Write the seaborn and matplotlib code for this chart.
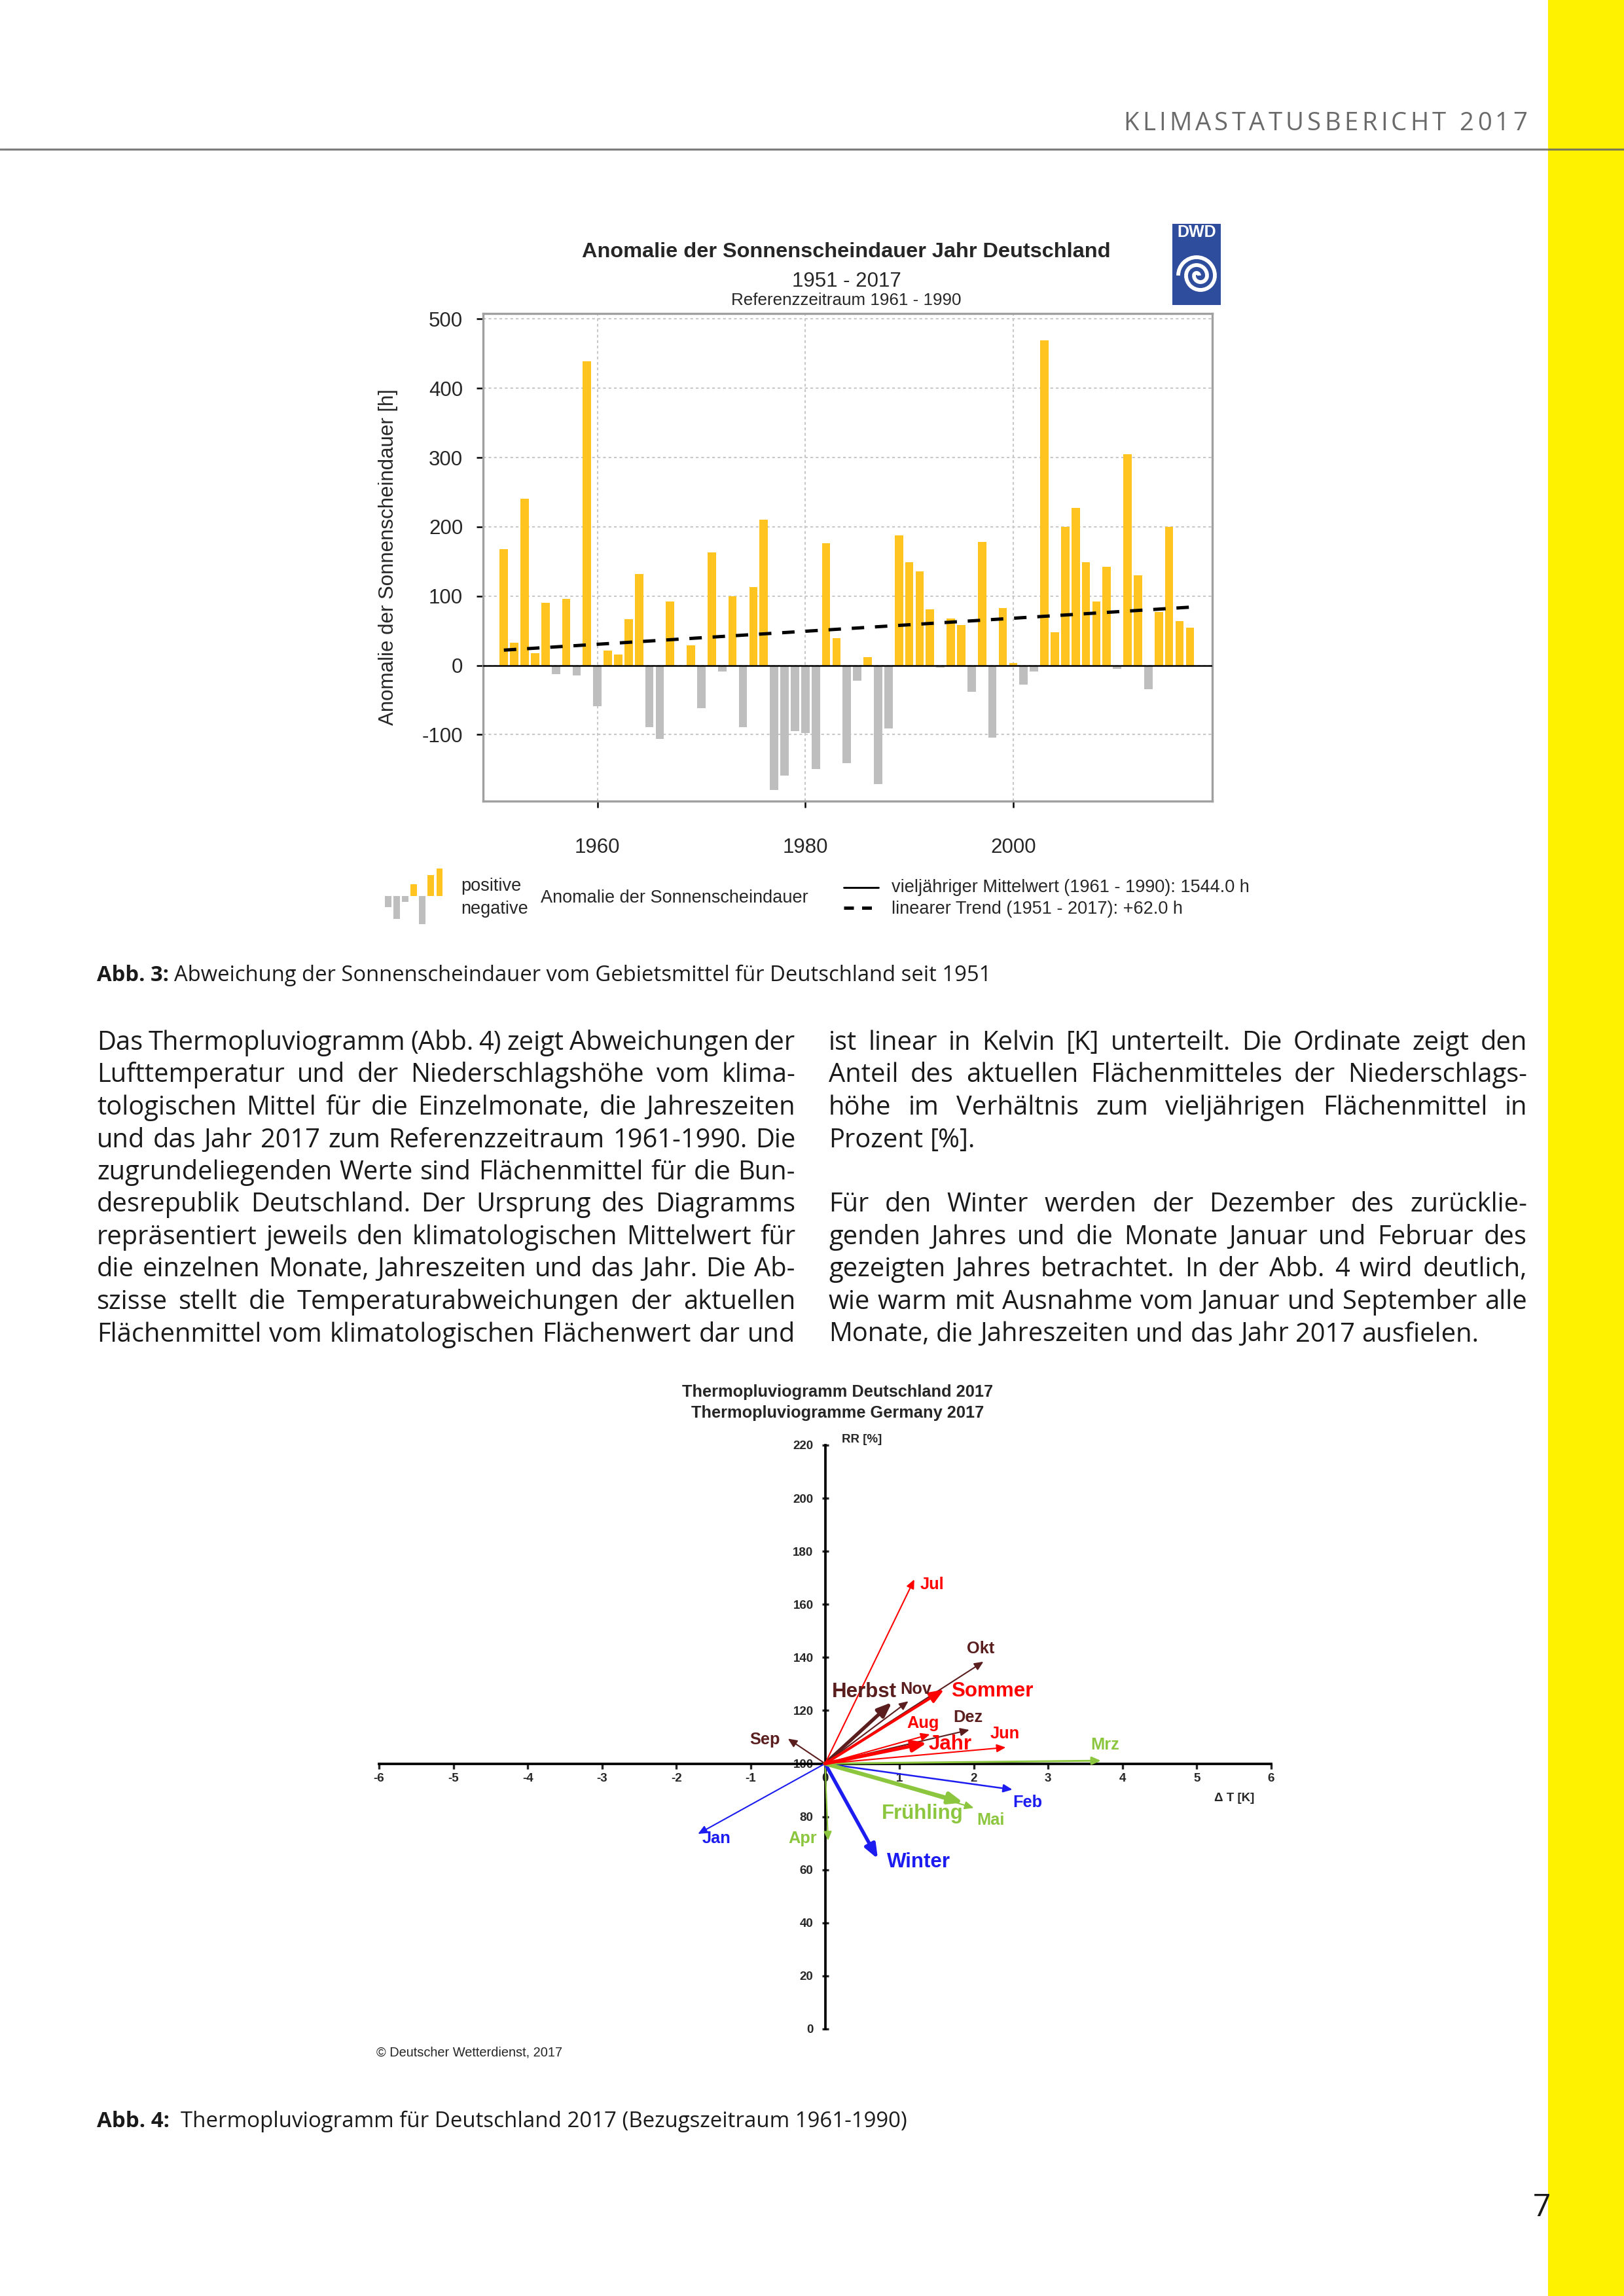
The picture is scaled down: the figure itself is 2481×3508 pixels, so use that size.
import matplotlib
matplotlib.use("Agg")
import matplotlib.pyplot as plt
from matplotlib.lines import Line2D
from matplotlib.patches import Rectangle, Arc
import numpy as np
import pandas as pd
import seaborn as sns

W, H, DPI = 2481, 3508, 300

# Abb. 3: Anomalie der Sonnenscheindauer [h], Deutschland, 1951-2017
years = list(range(1951, 2018))
sunshine_anomaly = [
    168, 33, 241, 18, 90, -13, 96, -15, 439, -59,       # 1951-1960
    21, 16, 67, 132, -89, -106, 92, 0, 29, -62,         # 1961-1970
    163, -9, 100, -89, 113, 210, -180, -159, -95, -98,  # 1971-1980
    -150, 176, 39, -141, -22, 12, -171, -91, 188, 149,  # 1981-1990
    136, 81, -3, 68, 58, -38, 178, -104, 83, 3,         # 1991-2000
    -28, -9, 469, 48, 200, 227, 149, 92, 142, -5,       # 2001-2010
    305, 130, -34, 77, 200, 64, 54,                     # 2011-2017
]
trend_years = [1951, 2017]
trend_hours = [22, 84]
bar_yticks = [-100, 0, 100, 200, 300, 400, 500]
bar_xticks = [1960, 1980, 2000]
icon_values = [-17, -36, -9, 18, -44, 33, 43]

# Abb. 4: Thermopluviogramm 2017 (dT in K, RR in %)
tp_labels = ["Jan", "Feb", "Mrz", "Apr", "Mai", "Jun", "Jul", "Aug", "Sep",
             "Okt", "Nov", "Dez", "Winter", "Frühling", "Sommer", "Herbst", "Jahr"]
tp_dt = [-1.71, 2.52, 3.71, 0.04, 2.00, 2.43, 1.20, 1.41, -0.50,
         2.13, 1.12, 1.94, 0.71, 1.86, 1.60, 0.90, 1.37]
tp_rr = [73.5, 90.2, 101.1, 71.0, 83.3, 106.1, 169.4, 111.0, 109.4,
         138.4, 123.5, 112.7, 64.1, 85.3, 127.9, 123.1, 107.8]
tp_xticks = list(range(-6, 7))
tp_yticks = list(range(0, 221, 20))

# styles
YELLOW, GRAY_BAR, STRIP = "#FFC420", "#BEBEBE", "#FFF200"
RED, BROWN, BLUE, GREEN = "#FF0000", "#5A1E1E", "#1C1CF0", "#8CC63F"
tp_color = {"Jan": BLUE, "Feb": BLUE, "Winter": BLUE,
            "Mrz": GREEN, "Apr": GREEN, "Mai": GREEN, "Frühling": GREEN,
            "Jun": RED, "Jul": RED, "Aug": RED, "Sommer": RED, "Jahr": RED,
            "Sep": BROWN, "Okt": BROWN, "Nov": BROWN, "Dez": BROWN, "Herbst": BROWN}
tp_big = {"Winter", "Frühling", "Sommer", "Herbst", "Jahr"}
tp_lw = {"Mrz": 0.7, "Feb": 0.6, "Sommer": 1.0, "Frühling": 1.5}
# label anchor and offset (points) relative to the arrow tip
tp_text = {
    "Jan": ("left", 1.6, -1.8), "Feb": ("left", 0.2, -4.8), "Mrz": ("center", 1.4, 5.8),
    "Apr": ("right", -4.0, 0.8), "Mai": ("left", 1.0, -4.6), "Jun": ("center", -0.2, 5.0),
    "Jul": ("left", 2.0, -1.8), "Aug": ("center", -2.6, 4.0), "Sep": ("right", -3.0, -0.4),
    "Okt": ("center", -1.0, 4.8), "Nov": ("left", -3.0, 4.4), "Dez": ("center", -0.5, 4.6),
    "Winter": ("left", 3.2, -1.2), "Frühling": ("right", 0.0, -4.0),
    "Sommer": ("left", 2.7, -0.5), "Herbst": ("right", 1.6, 3.8), "Jahr": ("left", 0.6, -0.4),
}

sns.set_style("white")
plt.rcParams["font.family"] = ["Liberation Sans", "DejaVu Sans"]
plt.rcParams["axes.unicode_minus"] = False

fig = plt.figure(figsize=(W / DPI, H / DPI), dpi=DPI)
fig.patch.set_facecolor("white")
renderer = fig.canvas.get_renderer()


def fx(x):
    return x / W


def fy(y):
    return 1 - y / H


BODY = dict(family=["Open Sans", "DejaVu Sans"], color="#1a1a1a")


def ink_width(s, **kw):
    t = fig.text(0, 0, s, **kw)
    w = t.get_window_extent(renderer).width
    t.remove()
    return w


def space_width(**kw):
    return ink_width("n n", **kw) - ink_width("nn", **kw)


def put_line(s, x0, x1, y, justify=True, **kw):
    words = s.split()
    if not words:
        return
    arts = [fig.text(0, fy(y), w, va="baseline", ha="left", **kw) for w in words]
    widths = [a.get_window_extent(renderer).width for a in arts]
    gap = space_width(**kw)
    if justify and len(words) > 1:
        gap = (x1 - x0 - sum(widths)) / (len(words) - 1)
    x = x0
    for a, w in zip(arts, widths):
        a.set_x(fx(x))
        x += w + gap


def put_tracked(s, x0, x1, y, **kw):
    arts, widths = [], []
    for ch in s:
        a = fig.text(0, fy(y), ch, va="baseline", ha="left", **kw)
        arts.append(a)
        widths.append(0.0 if ch == " " else a.get_window_extent(renderer).width)
    sp = space_width(**kw)
    g = (x1 - x0 - sum(widths) - sp * s.count(" ")) / (len(s) - 1)
    x = x0
    for ch, a, w in zip(s, arts, widths):
        a.set_x(fx(x))
        x += w + g + (sp if ch == " " else 0)


def put_caption(bold, rest, x0, x1, y, n_space=1):
    kw = dict(BODY, fontsize=10)
    total = ink_width(bold, fontweight="bold", **kw) + n_space * space_width(**kw) + ink_width(rest, **kw)
    kw = dict(BODY, fontsize=10 * (x1 - x0) / total)
    wb = ink_width(bold, fontweight="bold", **kw)
    fig.text(fx(x0), fy(y), bold, fontweight="bold", va="baseline", **kw)
    fig.text(fx(x0 + wb + n_space * space_width(**kw)), fy(y), rest, va="baseline", **kw)


# ---- page frame ----
fig.add_artist(Rectangle((fx(2367), 0), 1 - fx(2367), 1, transform=fig.transFigure,
                         color=STRIP, zorder=0))
fig.add_artist(Line2D([0, 1], [fy(228), fy(228)], transform=fig.transFigure,
                      color="#666666", lw=0.75, alpha=0.85, zorder=1))
put_tracked("KLIMASTATUSBERICHT 2017", 1716, 2333, 199,
            family=["Open Sans", "DejaVu Sans"], fontsize=9.2, color="#6a6a6a")
fig.text(fx(2355), fy(3373), "7", ha="center", va="center", fontsize=11.5,
         family=["Open Sans", "DejaVu Sans"], color="#1a1a1a")

# ---- Abb. 3 bar chart ----
ax = fig.add_axes([fx(738), fy(1224), 1114 / W, 745 / H])
df = pd.DataFrame({"year": years, "anom": sunshine_anomaly})
df["sign"] = np.where(df["anom"] >= 0, "positive", "negative")
sns.barplot(data=df, x="year", y="anom", hue="sign",
            palette={"positive": YELLOW, "negative": GRAY_BAR},
            native_scale=True, dodge=False, width=0.8, saturation=1,
            errorbar=None, legend=False, linewidth=0, ax=ax)
sns.lineplot(x=trend_years, y=trend_hours, color="black", lw=1.2,
             linestyle=(0, (3.8, 3.3)), ax=ax, zorder=4)
ax.axhline(0, color="black", lw=0.6, zorder=3)
ax.set_xlim(1949.0, 2019.15)
ax.set_ylim(-196, 508)
ax.set_xticks(bar_xticks)
ax.set_yticks(bar_yticks)
ax.grid(True, color="#c8c8c8", lw=0.5, linestyle=(0, (2, 2)))
ax.set_axisbelow(True)
for s in ax.spines.values():
    s.set_visible(True)
    s.set_color("#a0a0a0")
    s.set_linewidth(0.8)
ax.tick_params(axis="both", direction="out", length=2.4, width=0.6, color="black",
               labelsize=7.5, left=True, bottom=True)
ax.tick_params(axis="x", pad=11)
ax.tick_params(axis="y", pad=5)
ax.set_xlabel("")
ax.set_ylabel("Anomalie der Sonnenscheindauer [h]", fontsize=7.5)
ax.yaxis.set_label_coords(-0.117, 0.5)

fig.text(fx(1293), fy(385), "Anomalie der Sonnenscheindauer Jahr Deutschland",
         ha="center", va="center", fontsize=7.8, fontweight="bold")
fig.text(fx(1293), fy(430), "1951 - 2017", ha="center", va="center", fontsize=7.5)
fig.text(fx(1293), fy(459), "Referenzzeitraum 1961 - 1990", ha="center", va="center", fontsize=6.25)

# DWD logo
axl = fig.add_axes([fx(1791), fy(466), 74 / W, 124 / H])
axl.set_xlim(0, 74)
axl.set_ylim(0, 124)
axl.axis("off")
axl.add_patch(Rectangle((0, 0), 74, 124, color="#2E4D9C"))
axl.text(37, 111, "DWD", ha="center", va="center", color="white", fontweight="bold", fontsize=6)
for cx, r, t1, t2 in [(37, 4, 0, 180), (43, 10, 180, 360), (37, 16, 0, 180),
                      (43, 22, 180, 360), (37, 28, 0, 180)]:
    axl.add_patch(Arc((cx, 45), 2 * r, 2 * r, theta1=t1, theta2=t2, color="white", lw=1.4))

# legend row
axi = fig.add_axes([fx(586), fy(1414), 92 / W, 90 / H])
icon_df = pd.DataFrame({"pos": range(len(icon_values)), "val": icon_values})
icon_df["sign"] = np.where(icon_df["val"] >= 0, "positive", "negative")
sns.barplot(data=icon_df, x="pos", y="val", hue="sign",
            palette={"positive": YELLOW, "negative": GRAY_BAR},
            native_scale=True, dodge=False, width=0.75, saturation=1,
            errorbar=None, legend=False, linewidth=0, ax=axi)
axi.set_xlim(-0.5, len(icon_values) - 0.5)
axi.set_ylim(-46, 46)
axi.axis("off")

leg_kw = dict(fontsize=6.5, va="center", ha="left")
fig.text(fx(704), fy(1354), "positive", **leg_kw)
fig.text(fx(704), fy(1389), "negative", **leg_kw)
fig.text(fx(826), fy(1372), "Anomalie der Sonnenscheindauer", **leg_kw)
fig.add_artist(Line2D([fx(1289), fx(1342)], [fy(1356), fy(1356)], transform=fig.transFigure,
                      color="black", lw=0.7))
fig.add_artist(Line2D([fx(1289), fx(1342)], [fy(1387), fy(1387)], transform=fig.transFigure,
                      color="black", lw=1.2, linestyle=(0, (3, 2.5))))
fig.text(fx(1362), fy(1356), "vieljähriger Mittelwert (1961 - 1990): 1544.0 h", **leg_kw)
fig.text(fx(1362), fy(1389), "linearer Trend (1951 - 2017): +62.0 h", **leg_kw)

put_caption("Abb. 3:", "Abweichung der Sonnenscheindauer vom Gebietsmittel für Deutschland seit 1951",
            148, 1514, 1499)

# ---- body text ----
col1 = [
    "Das Thermopluviogramm (Abb. 4) zeigt Abweichungen der",
    "Lufttemperatur und der Niederschlagshöhe vom klima-",
    "tologischen Mittel für die Einzelmonate, die Jahreszeiten",
    "und das Jahr 2017 zum Referenzzeitraum 1961-1990. Die",
    "zugrundeliegenden Werte sind Flächenmittel für die Bun-",
    "desrepublik Deutschland. Der Ursprung des Diagramms",
    "repräsentiert jeweils den klimatologischen Mittelwert für",
    "die einzelnen Monate, Jahreszeiten und das Jahr. Die Ab-",
    "szisse stellt die Temperaturabweichungen der aktuellen",
    "Flächenmittel vom klimatologischen Flächenwert dar und",
]
col2 = [
    ("ist linear in Kelvin [K] unterteilt. Die Ordinate zeigt den", True),
    ("Anteil des aktuellen Flächenmitteles der Niederschlags-", True),
    ("höhe im Verhältnis zum vieljährigen Flächenmittel in", True),
    ("Prozent [%].", False),
    ("", False),
    ("Für den Winter werden der Dezember des zurücklie-", True),
    ("genden Jahres und die Monate Januar und Februar des", True),
    ("gezeigten Jahres betrachtet. In der Abb. 4 wird deutlich,", True),
    ("wie warm mit Ausnahme vom Januar und September alle", True),
    ("Monate, die Jahreszeiten und das Jahr 2017 ausfielen.", False),
]
col_w = 1067
just_lines = col1[1:] + [t for t, j in col2 if j]
body_size = 10 * min(col_w / ink_width(t, fontsize=10, **BODY) for t in just_lines) * 0.995
for i, t in enumerate(col1):
    put_line(t, 148, 1215, 1604 + i * 49.5, True, fontsize=body_size, **BODY)
for i, (t, j) in enumerate(col2):
    put_line(t, 1266, 2333, 1604 + i * 49.5, j, fontsize=body_size, **BODY)

# ---- Abb. 4 thermopluviogram ----
ax2 = fig.add_axes([fx(579), fy(3100), 1363 / W, 892 / H])
ax2.patch.set_visible(False)
ax2.set_xlim(-6, 6)
ax2.set_ylim(0, 220)
ax2.spines["left"].set_position(("data", 0))
ax2.spines["bottom"].set_position(("data", 100))
ax2.spines["top"].set_visible(False)
ax2.spines["right"].set_visible(False)
for s in ("left", "bottom"):
    ax2.spines[s].set_color("black")
    ax2.spines[s].set_linewidth(0.9)
ax2.set_xticks(tp_xticks)
ax2.set_yticks(tp_yticks)
ax2.tick_params(axis="x", direction="out", length=2, width=0.8, pad=1.5, labelsize=4.5,
                bottom=True)
ax2.tick_params(axis="y", direction="inout", length=2.6, width=0.8, pad=3, labelsize=4.5,
                left=True)
for lab in ax2.get_xticklabels() + ax2.get_yticklabels():
    lab.set_fontweight("bold")

for lab, dt, rr in zip(tp_labels, tp_dt, tp_rr):
    col = tp_color[lab]
    big = lab in tp_big
    lw = tp_lw.get(lab, 1.3 if big else 0.5)
    style = "-|>,head_length=0.43,head_width=0.17" if big else "-|>,head_length=0.45,head_width=0.2"
    ax2.annotate("", xy=(dt, rr), xytext=(0, 100),
                 arrowprops=dict(arrowstyle=style, color=col, lw=lw, shrinkA=0, shrinkB=0,
                                 mutation_scale=10 if big else 6),
                 zorder=4 if col == RED else 3)
    ha, ox, oy = tp_text[lab]
    ax2.annotate(lab, xy=(dt, rr), xytext=(ox, oy), textcoords="offset points",
                 ha=ha, va="center", color=col, fontweight="bold",
                 fontsize=7.5 if big else 6.1, zorder=5)

fig.text(fx(1280), fy(2127), "Thermopluviogramm Deutschland 2017", ha="center", va="center",
         fontsize=6.1, fontweight="bold")
fig.text(fx(1280), fy(2159), "Thermopluviogramme Germany 2017", ha="center", va="center",
         fontsize=6.1, fontweight="bold")
fig.text(fx(1286), fy(2200), "RR [%]", ha="left", va="center", fontsize=4.5, fontweight="bold")
fig.text(fx(1886), fy(2747), "Δ T [K]", ha="center", va="center", fontsize=4.5, fontweight="bold")
fig.text(fx(575), fy(3136), "© Deutscher Wetterdienst, 2017", ha="left", va="center", fontsize=4.8)

put_caption("Abb. 4:", "Thermopluviogramm für Deutschland 2017 (Bezugszeitraum 1961-1990)",
            148, 1382, 3250, n_space=2)

fig.savefig("out.png", dpi=DPI, facecolor="white")
